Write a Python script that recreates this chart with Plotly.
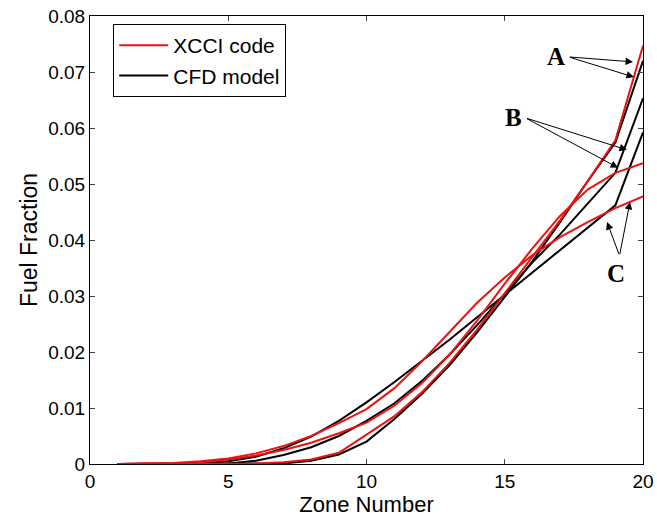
import plotly.graph_objects as go

zones = list(range(1, 21))

xcci_A = [0, 0, 0, 0, 0.00005, 0.0001, 0.0003, 0.0008, 0.002, 0.0052, 0.0085, 0.0128, 0.018, 0.024, 0.0305, 0.037, 0.0435, 0.0505, 0.0578, 0.0747]
cfd_A = [0, 0, 0, 0, 0, 0, 0.0001, 0.0006, 0.0017, 0.0040, 0.0080, 0.0125, 0.0176, 0.0235, 0.0298, 0.0362, 0.0432, 0.0505, 0.0574, 0.072]
xcci_B = [0, 0, 0.0001, 0.0003, 0.0008, 0.0015, 0.0025, 0.0038, 0.0055, 0.0074, 0.0104, 0.0144, 0.0195, 0.0256, 0.0322, 0.0385, 0.0443, 0.049, 0.052, 0.0537]
cfd_B = [0, 0, 0, 0, 0.0001, 0.0006, 0.0016, 0.003, 0.005, 0.0077, 0.0108, 0.0148, 0.0195, 0.0248, 0.0305, 0.036, 0.041, 0.0465, 0.052, 0.0653]
xcci_C = [0, 0.0001, 0.0002, 0.0005, 0.001, 0.0019, 0.0032, 0.005, 0.0073, 0.0098, 0.0135, 0.0183, 0.0235, 0.0288, 0.0333, 0.0373, 0.0405, 0.0432, 0.0457, 0.0478]
cfd_C = [0, 0, 0, 0.0001, 0.0005, 0.0013, 0.0028, 0.0049, 0.0077, 0.0110, 0.0146, 0.0184, 0.0222, 0.0262, 0.0302, 0.0342, 0.0382, 0.0422, 0.0462, 0.0592]

series = [
    ("CFD model", cfd_A, "black", True),
    ("CFD model", cfd_B, "black", False),
    ("CFD model", cfd_C, "black", False),
    ("XCCI code", xcci_A, "#ee1111", True),
    ("XCCI code", xcci_B, "#ee1111", False),
    ("XCCI code", xcci_C, "#ee1111", False),
]

# labels and arrows: (label, text_x, text_y, tail_x, tail_y, [tips])
labels = [
    ("A", 16.85, 0.0727, 17.3, 0.0727, [(19.64, 0.0718), (19.67, 0.0691)]),
    ("B", 15.33, 0.0618, 15.75, 0.0618, [(19.42, 0.0561), (19.10, 0.0529)]),
    ("C", 19.03, 0.0340, 19.15, 0.0372, [(18.70, 0.0432), (19.53, 0.0468)]),
]

fig = go.Figure()
for name, vals, color, show in series:
    fig.add_trace(go.Scatter(
        x=zones, y=vals, mode="lines", name=name,
        line=dict(color=color, width=2),
        showlegend=show,
        legendrank=1 if name == "XCCI code" else 2,
    ))

annotations = []
for lab, tx, ty, ax, ay, tips in labels:
    annotations.append(dict(
        x=tx, y=ty, xref="x", yref="y", text="<b>" + lab + "</b>", showarrow=False,
        font=dict(family="Liberation Serif", size=25, color="black"),
    ))
    for (hx, hy) in tips:
        annotations.append(dict(
            x=hx, y=hy, xref="x", yref="y", ax=ax, ay=ay, axref="x", ayref="y",
            text="", showarrow=True, arrowhead=2, arrowsize=1.5, arrowwidth=1,
            arrowcolor="black", standoff=0, startstandoff=0,
        ))

fig.update_layout(
    width=657, height=522,
    margin=dict(l=90, r=14, t=16, b=58, autoexpand=False),
    paper_bgcolor="white", plot_bgcolor="white",
    font=dict(family="Liberation Sans", size=19, color="black"),
    legend=dict(
        x=0.042, y=0.982, xanchor="left", yanchor="top",
        bgcolor="white", bordercolor="black", borderwidth=1,
        font=dict(family="Liberation Sans", size=21, color="black"),
        traceorder="normal", tracegroupgap=0, itemwidth=49,
    ),
    annotations=annotations,
)
fig.update_xaxes(
    range=[0, 20], dtick=5, tick0=0, ticks="inside", ticklen=5,
    showline=True, linecolor="black", linewidth=1, mirror="ticks",
    showgrid=False, zeroline=False, automargin=False,
    title=dict(text="Zone Number", font=dict(size=22), standoff=2),
    tickfont=dict(size=19), ticklabeloverflow="allow",
)
fig.update_yaxes(
    range=[0, 0.08], dtick=0.01, tick0=0, ticks="inside", ticklen=5,
    showline=True, linecolor="black", linewidth=1, mirror="ticks",
    showgrid=False, zeroline=False, automargin=False,
    title=dict(text="Fuel Fraction", font=dict(size=23), standoff=4),
    tickfont=dict(size=19),
)

fig.write_html("out.html")
